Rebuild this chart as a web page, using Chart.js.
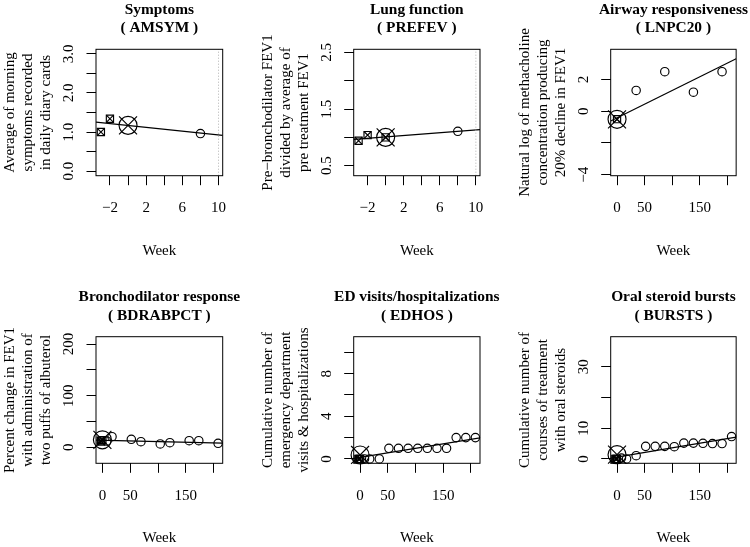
<!DOCTYPE html>
<html><head><meta charset="utf-8">
<script src="https://cdn.jsdelivr.net/npm/chart.js@4"></script>
<style>
html,body{margin:0;padding:0;background:#fff;overflow:hidden;width:750px;height:547px;}
canvas{position:absolute;}
</style></head><body>
<canvas id="c0"></canvas><canvas id="c1"></canvas><canvas id="c2"></canvas>
<canvas id="c3"></canvas><canvas id="c4"></canvas><canvas id="c5"></canvas>
<script>
// ---------- DATA ----------
const xAxisTitle = "Week";

// Panel 1: Symptoms
const symTitle = ["Symptoms", "( AMSYM )"];
const symYTitle = ["Average of morning", "symptoms recorded", "in daily diary cards"];
const symSqWeeks = [-3, -2];            const symSqVals = [1.00, 1.34];
const symBigWeeks = [0];                const symBigVals = [1.17];
const symCircWeeks = [8];               const symCircVals = [0.96];
const symFit = [1.255, 0.915];
const symXRange = [-3.54, 10.46];       const symYRange = [-0.12, 3.12];
const symXTicks = [-2, 0, 2, 4, 6, 8, 10];
const symXTickLabels = ["−2", "", "2", "", "6", "", "10"];
const symYTicks = [0, 0.5, 1, 1.5, 2, 2.5, 3];
const symYTickLabels = ["0.0", "", "1.0", "", "2.0", "", "3.0"];
const symRefWeek = 10;

// Panel 2: Lung function
const lungTitle = ["Lung function", "( PREFEV )"];
const lungYTitle = ["Pre−bronchodilator FEV1", "divided by average of", "pre treatment FEV1"];
const lungSqWeeks = [-3, -2, 0];        const lungSqVals = [0.94, 1.04, 1.00];
const lungBigWeeks = [0];               const lungBigVals = [1.00];
const lungCircWeeks = [8];              const lungCircVals = [1.107];
const lungFit = [0.963, 1.137];
const lungXRange = [-3.54, 10.46];      const lungYRange = [0.324, 2.553];
const lungXTicks = [-2, 0, 2, 4, 6, 8, 10];
const lungXTickLabels = ["−2", "", "2", "", "6", "", "10"];
const lungYTicks = [0.5, 1, 1.5, 2, 2.5];
const lungYTickLabels = ["0.5", "", "1.5", "", "2.5"];
const lungRefWeek = 10;

// Panel 3: Airway responsiveness
const airTitle = ["Airway responsiveness", "( LNPC20 )"];
const airYTitle = ["Natural log of methacholine", "concentration producing", "20% decline in FEV1"];
const airSqWeeks = [0];                 const airSqVals = [-0.50];
const airBigWeeks = [0];                const airBigVals = [-0.51];
const airCircWeeks = [34.7, 86.7, 138.7, 190.7];
const airCircVals = [1.31, 2.49, 1.20, 2.49];
const airFit = [-0.62, 3.30];
const airXRange = [-11.5, 216.3];       const airYRange = [-4.06, 3.90];
const airXTicks = [0, 50, 100, 150, 200];
const airXTickLabels = ["0", "50", "", "150", ""];
const airYTicks = [-4, -2, 0, 2];
const airYTickLabels = ["−4", "", "0", "2"];

// Panel 4: Bronchodilator response
const bdrTitle = ["Bronchodilator response", "( BDRABPCT )"];
const bdrYTitle = ["Percent change in FEV1", "with administration of", "two puffs of albuterol"];
const bdrSqWeeks = [-3, -2, 0];         const bdrSqVals = [13, 11, 14];
const bdrBigWeeks = [0];                const bdrBigVals = [14.5];
const bdrCircWeeks = [8, 17.3, 52, 69.3, 104, 121.3, 156, 173.3, 208];
const bdrCircVals = [12, 20.5, 15.5, 10.8, 6.4, 8.9, 12.8, 12.8, 7.7];
const bdrFit = [14, 8];
const bdrXRange = [-11.5, 216.3];       const bdrYRange = [-31, 214.2];
const bdrXTicks = [0, 50, 100, 150, 200];
const bdrXTickLabels = ["0", "50", "", "150", ""];
const bdrYTicks = [0, 50, 100, 150, 200];
const bdrYTickLabels = ["0", "", "100", "", "200"];

// Panel 5: ED visits/hospitalizations
const edTitle = ["ED visits/hospitalizations", "( EDHOS )"];
const edYTitle = ["Cumulative number of", "emergency department", "visits & hospitalizations"];
const edSqWeeks = [-3, -2, 0];          const edSqVals = [0, 0, 0];
const edBigWeeks = [0];                 const edBigVals = [0.37];
const edCircWeeks = [8, 17.3, 34.7, 52, 69.3, 86.7, 104, 121.3, 138.7, 156, 173.3, 190.7, 208];
const edCircVals = [0, 0, 0, 1, 1, 1, 1, 1, 1, 1, 2, 2, 2];
const edFit = [0.05, 1.97];
const edXRange = [-11.5, 216.3];        const edYRange = [-0.41, 11.47];
const edXTicks = [0, 50, 100, 150, 200];
const edXTickLabels = ["0", "50", "", "150", ""];
const edYTicks = [0, 2, 4, 6, 8, 10];
const edYTickLabels = ["0", "", "4", "", "8", ""];

// Panel 6: Oral steroid bursts
const burTitle = ["Oral steroid bursts", "( BURSTS )"];
const burYTitle = ["Cumulative number of", "courses of treatment", "with oral steroids"];
const burSqWeeks = [-3, -2, 0];         const burSqVals = [0, 0, 0];
const burBigWeeks = [0];                const burBigVals = [1.4];
const burCircWeeks = [8, 17.3, 34.7, 52, 69.3, 86.7, 104, 121.3, 138.7, 156, 173.3, 190.7, 208];
const burCircVals = [0.3, 0, 1.07, 4.1, 4.1, 4.1, 4.0, 5.15, 5.15, 5.1, 5.0, 5.0, 7.3];
const burFit = [0.3, 7.1];
const burXRange = [-11.5, 216.3];       const burYRange = [-1.41, 39.75];
const burXTicks = [0, 50, 100, 150, 200];
const burXTickLabels = ["0", "50", "", "150", ""];
const burYTicks = [0, 10, 20, 30];
const burYTickLabels = ["0", "10", "", "30"];

// ---------- BUILD ----------
const zip = (xs, ys) => xs.map((x, i) => ({x: x, y: ys[i]}));
const panels = [
  {title: symTitle, ytitle: symYTitle, sq: zip(symSqWeeks, symSqVals), big: zip(symBigWeeks, symBigVals), circ: zip(symCircWeeks, symCircVals), fit: symFit, xr: symXRange, yr: symYRange, xt: symXTicks, xtl: symXTickLabels, yt: symYTicks, ytl: symYTickLabels, ref: symRefWeek},
  {title: lungTitle, ytitle: lungYTitle, sq: zip(lungSqWeeks, lungSqVals), big: zip(lungBigWeeks, lungBigVals), circ: zip(lungCircWeeks, lungCircVals), fit: lungFit, xr: lungXRange, yr: lungYRange, xt: lungXTicks, xtl: lungXTickLabels, yt: lungYTicks, ytl: lungYTickLabels, ref: lungRefWeek},
  {title: airTitle, ytitle: airYTitle, sq: zip(airSqWeeks, airSqVals), big: zip(airBigWeeks, airBigVals), circ: zip(airCircWeeks, airCircVals), fit: airFit, xr: airXRange, yr: airYRange, xt: airXTicks, xtl: airXTickLabels, yt: airYTicks, ytl: airYTickLabels, ref: null},
  {title: bdrTitle, ytitle: bdrYTitle, sq: zip(bdrSqWeeks, bdrSqVals), big: zip(bdrBigWeeks, bdrBigVals), circ: zip(bdrCircWeeks, bdrCircVals), fit: bdrFit, xr: bdrXRange, yr: bdrYRange, xt: bdrXTicks, xtl: bdrXTickLabels, yt: bdrYTicks, ytl: bdrYTickLabels, ref: null},
  {title: edTitle, ytitle: edYTitle, sq: zip(edSqWeeks, edSqVals), big: zip(edBigWeeks, edBigVals), circ: zip(edCircWeeks, edCircVals), fit: edFit, xr: edXRange, yr: edYRange, xt: edXTicks, xtl: edXTickLabels, yt: edYTicks, ytl: edYTickLabels, ref: null},
  {title: burTitle, ytitle: burYTitle, sq: zip(burSqWeeks, burSqVals), big: zip(burBigWeeks, burBigVals), circ: zip(burCircWeeks, burCircVals), fit: burFit, xr: burXRange, yr: burYRange, xt: burXTicks, xtl: burXTickLabels, yt: burYTicks, ytl: burYTickLabels, ref: null}
];

Chart.defaults.font.family = '"Liberation Serif", "Times New Roman", serif';
Chart.defaults.font.size = 15;
Chart.defaults.color = '#000';

const boxL = [96, 103.7, 110.7], boxR = [222.7, 230, 237.3];
const boxT = [49.3, 336.7], boxB = [175.7, 463.3];
const canvasTop = [0, 270], canvasH = [270, 278];
const XH = 84;

const panelPlugin = {
  id: 'panelText',
  afterDraw(chart, args, o) {
    const ctx = chart.ctx, a = chart.chartArea, ys = chart.scales.y;
    ctx.save();
    ctx.strokeStyle = '#000'; ctx.lineWidth = 1;
    ctx.strokeRect(a.left, a.top, a.right - a.left, a.bottom - a.top);
    ctx.fillStyle = '#000';
    ctx.font = 'bold 15.4px "Liberation Serif", serif';
    ctx.textAlign = 'center'; ctx.textBaseline = 'alphabetic';
    const cx = (a.left + a.right) / 2;
    ctx.fillText(o.title[0], cx, a.top - 35.5);
    ctx.fillText(o.title[1], cx, a.top - 17);
    ctx.font = '15px "Liberation Serif", serif';
    o.yt.forEach((v, i) => {
      const lbl = o.ytl[i]; if (!lbl) return;
      ctx.save(); ctx.translate(a.left - 23, ys.getPixelForValue(v)); ctx.rotate(-Math.PI / 2);
      ctx.textAlign = 'center'; ctx.fillText(lbl, 0, 0); ctx.restore();
    });
    ctx.restore();
  }
};

function markerSet(data, style, radius) {
  return {data: data, pointStyle: style, pointRadius: radius, borderColor: '#000', borderWidth: 1.15,
          backgroundColor: 'rgba(0,0,0,0)', clip: false};
}

panels.forEach((p, i) => {
  const col = i % 3, row = Math.floor(i / 3);
  const cv = document.getElementById('c' + i);
  const W = 250, H = canvasH[row];
  cv.width = W; cv.height = H;
  cv.style.left = (col * 250) + 'px'; cv.style.top = canvasTop[row] + 'px';
  const bl = boxL[col], br = boxR[col], bt = boxT[row] - canvasTop[row], bb = boxB[row] - canvasTop[row];
  const ds = [];
  if (p.ref !== null) ds.push({type: 'line', data: [{x: p.ref, y: p.yr[0]}, {x: p.ref, y: p.yr[1]}], borderColor: '#b0b0b0', borderDash: [1, 2], borderWidth: 1, pointRadius: 0});
  ds.push({type: 'line', data: [{x: p.xr[0], y: p.fit[0]}, {x: p.xr[1], y: p.fit[1]}], borderColor: '#000', borderWidth: 1.2, pointRadius: 0, tension: 0});
  ds.push(markerSet(p.circ, 'circle', 4.2));
  ds.push(markerSet(p.sq, 'rect', 5.1));
  ds.push(markerSet(p.sq, 'crossRot', 5.1));
  ds.push(markerSet(p.big, 'circle', 9));
  ds.push(markerSet(p.big, 'crossRot', 12.7));
  new Chart(cv, {
    type: 'scatter',
    data: {datasets: ds},
    options: {
      responsive: false, animation: false, events: [],
      layout: {padding: {left: 0, right: W - br, top: bt, bottom: H - bb - XH}},
      plugins: {legend: {display: false}, tooltip: {enabled: false},
        panelText: {title: p.title, yt: p.yt, ytl: p.ytl}},
      scales: {
        x: {type: 'linear', position: 'bottom', min: p.xr[0], max: p.xr[1],
          afterBuildTicks: s => { s.ticks = p.xt.map(v => ({value: v})); },
          afterFit: s => { s.height = XH; },
          ticks: {autoSkip: false, maxRotation: 0, minRotation: 0, padding: 14.3, color: '#000',
            font: {size: 15}, callback: (v, idx) => p.xtl[idx]},
          grid: {drawOnChartArea: false, drawTicks: true, tickLength: 9.5, color: '#000', lineWidth: 1},
          border: {display: false},
          title: {display: true, text: xAxisTitle, color: '#000', font: {size: 15}, padding: {top: 0, bottom: 0}}
        },
        y: {type: 'linear', position: 'left', min: p.yr[0], max: p.yr[1],
          afterBuildTicks: s => { s.ticks = p.yt.map(v => ({value: v})); },
          afterFit: s => { s.width = bl; },
          ticks: {display: false},
          grid: {drawOnChartArea: false, drawTicks: true, tickLength: 9.5, color: '#000', lineWidth: 1},
          border: {display: false},
          title: {display: true, text: p.ytitle, color: '#000', font: {size: 15}, padding: {top: bl - 95, bottom: 0}}
        }
      }
    },
    plugins: [panelPlugin]
  });
});
</script>
</body></html>
